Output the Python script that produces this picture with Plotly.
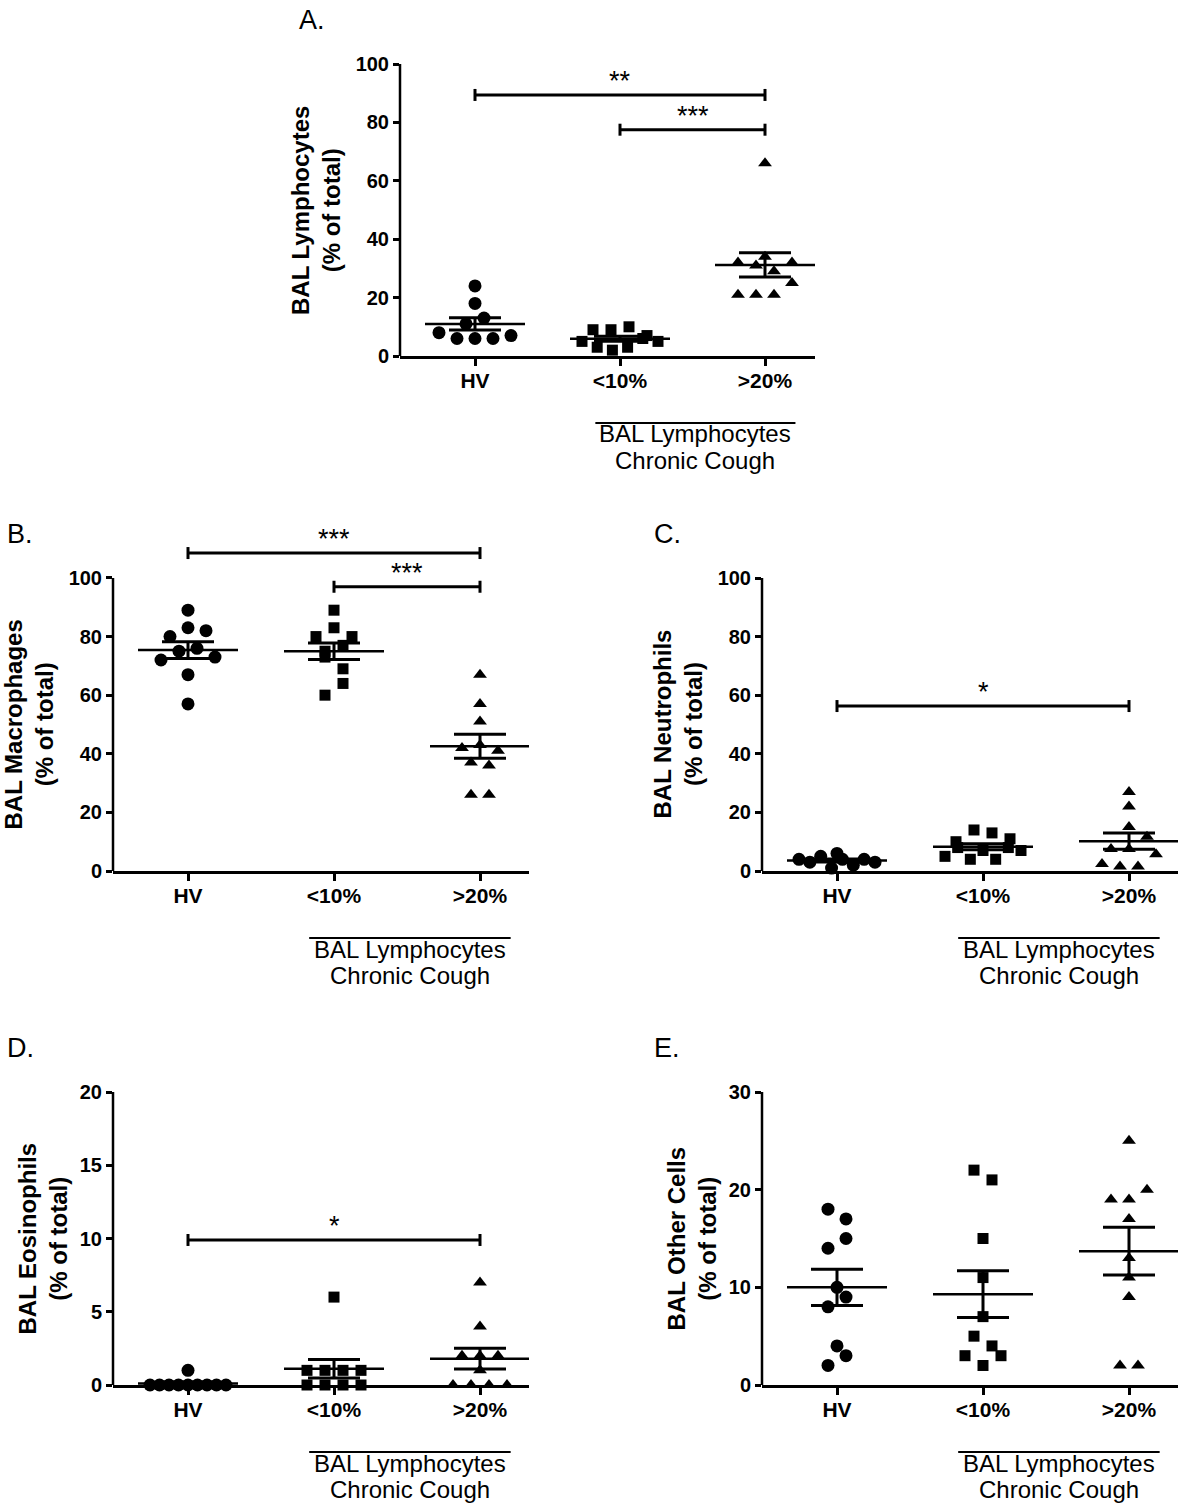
import math
import numpy as np
import plotly.graph_objects as go

FONT = "Liberation Sans, Arial, sans-serif"

# ---------------- data ----------------
groups = ["HV", "<10%", ">20%"]
group_label_1 = "BAL Lymphocytes"
group_label_2 = "Chronic Cough"

lymph_hv = [8, 6, 6, 6, 7, 11, 13, 18, 24]
lymph_lt10 = [5, 3, 2, 3, 6, 5, 9, 9, 10, 7]
lymph_gt20 = [21, 21, 21, 25, 32, 31, 29, 32, 34, 66]

macro_hv = [57, 67, 72, 75, 76, 73, 80, 83, 82, 89]
macro_lt10 = [60, 64, 73, 69, 75, 77, 80, 83, 80, 89]
macro_gt20 = [26, 26, 37, 36, 42, 43, 41, 51, 57, 67]

neut_hv = [4, 3, 5, 1, 4, 2, 4, 3, 6]
neut_lt10 = [10, 5, 8, 4, 7, 14, 4, 13, 8, 11, 7]
neut_gt20 = [2.4, 1.5, 1.5, 5.7, 7.5, 7.5, 11.7, 15, 22, 27]

eos_hv = [0, 0, 0, 0, 0, 0, 0, 0, 0, 1]
eos_lt10 = [0, 0, 0, 0, 1, 1, 1, 1, 6]
eos_gt20 = [1, 0, 0, 0, 0, 2, 2, 2, 4, 7]

other_hv = [2, 3, 4, 8, 9, 10, 14, 15, 18, 17]
other_lt10 = [3, 2, 3, 5, 4, 7, 11, 15, 22, 21]
other_gt20 = [2, 2, 9, 11, 13, 17, 19, 19, 20, 25]

# significance brackets: (from group, to group, height, label)
lymph_sig = [(0, 2, 89.4, "**"), (1, 2, 77.5, "***")]
macro_sig = [(0, 2, 108.5, "***"), (1, 2, 97, "***")]
neut_sig = [(0, 2, 56.3, "*")]
eos_sig = [(0, 2, 9.9, "*")]
other_sig = []

lymph_ticks = [0, 20, 40, 60, 80, 100]
macro_ticks = [0, 20, 40, 60, 80, 100]
neut_ticks = [0, 20, 40, 60, 80, 100]
eos_ticks = [0, 5, 10, 15, 20]
other_ticks = [0, 10, 20, 30]

# ---------------- layout geometry (pixels) ----------------
W, H = 1200, 1508
panels = [
    dict(letter="A.", title="BAL Lymphocytes", data=[lymph_hv, lymph_lt10, lymph_gt20],
         sig=lymph_sig, ticks=lymph_ticks, ytop=100, left=400, right=815, bottom=356, top=64,
         xppu=145, letter_pos=(297, 20), title_x=316),
    dict(letter="B.", title="BAL Macrophages", data=[macro_hv, macro_lt10, macro_gt20],
         sig=macro_sig, ticks=macro_ticks, ytop=115, left=113, right=529, bottom=871, top=534,
         xppu=146, letter_pos=(5, 534), title_x=29),
    dict(letter="C.", title="BAL Neutrophils", data=[neut_hv, neut_lt10, neut_gt20],
         sig=neut_sig, ticks=neut_ticks, ytop=100, left=762, right=1178, bottom=871, top=578,
         xppu=146, letter_pos=(652, 534), title_x=677),
    dict(letter="D.", title="BAL Eosinophils", data=[eos_hv, eos_lt10, eos_gt20],
         sig=eos_sig, ticks=eos_ticks, ytop=20, left=113, right=529, bottom=1385, top=1092,
         xppu=146, letter_pos=(5, 1048), title_x=42),
    dict(letter="E.", title="BAL Other Cells", data=[other_hv, other_lt10, other_gt20],
         sig=other_sig, ticks=other_ticks, ytop=30, left=762, right=1178, bottom=1385, top=1092,
         xppu=146, letter_pos=(652, 1048), title_x=691),
]
symbols = ["circle", "square", "triangle-up"]
sizes = [13, 11, 12]


def swarm(vals, ppu_y, ppu_x, thresh=14.0, step=18.0, half_max=38.0):
    """GraphPad-like scatter: bin points whose values overlap, spread each row."""
    n = len(vals)
    order = sorted(range(n), key=lambda i: (vals[i], i))
    bins, cur = [], [order[0]]
    for i in order[1:]:
        if (vals[i] - vals[cur[0]]) * ppu_y < thresh:
            cur.append(i)
        else:
            bins.append(cur)
            cur = [i]
    bins.append(cur)
    offs = [0.0] * n
    for b in bins:
        b = sorted(b)
        k = len(b)
        sp = step if k < 2 else min(step, 2 * half_max / (k - 1))
        for j, idx in enumerate(b):
            offs[idx] = (j - (k - 1) / 2) * sp / ppu_x
    return offs


def px(x):
    return x / W


def py(y):
    return 1 - y / H


fig = go.Figure()
layout = dict(width=W, height=H, margin=dict(l=0, r=0, t=0, b=0, pad=0, autoexpand=False),
              plot_bgcolor="white", paper_bgcolor="white", showlegend=False,
              font=dict(family=FONT, color="black"), template="none")
shapes, annotations = [], []

for k, p in enumerate(panels, start=1):
    xa = "x" if k == 1 else f"x{k}"
    ya = "y" if k == 1 else f"y{k}"
    xkey = "xaxis" if k == 1 else f"xaxis{k}"
    ykey = "yaxis" if k == 1 else f"yaxis{k}"
    xppu = p["xppu"]
    xl = -(75.0) / xppu
    xr = xl + (p["right"] - p["left"]) / xppu
    ppu_y = (p["bottom"] - p["top"]) / p["ytop"]

    layout[xkey] = dict(domain=[px(p["left"]), px(p["right"])], range=[xl, xr], anchor=ya,
                        showline=True, linewidth=2.5, linecolor="black", ticks="outside",
                        ticklen=7, tickwidth=2.5, tickcolor="black", tickvals=[0, 1, 2],
                        ticktext=groups, tickfont=dict(size=21, family=FONT, weight="bold"),
                        ticklabelstandoff=-3,
                        showgrid=False, zeroline=False, fixedrange=True, automargin=False)
    layout[ykey] = dict(domain=[py(p["bottom"]), py(p["top"])], range=[0, p["ytop"]], anchor=xa,
                        showline=False, ticks="outside", ticklen=6, tickwidth=2.5,
                        tickcolor="black", tickvals=p["ticks"],
                        tickfont=dict(size=20, family=FONT, weight="bold"),
                        showgrid=False, zeroline=False, fixedrange=True, automargin=False)
    # y axis line up to the last tick
    shapes.append(dict(type="line", xref=f"{xa} domain", yref=ya, x0=0, x1=0,
                       y0=0, y1=p["ticks"][-1], line=dict(color="black", width=2.5)))

    for i, vals in enumerate(p["data"]):
        offs = swarm(vals, ppu_y, xppu)
        fig.add_trace(go.Scatter(x=[i + o for o in offs], y=vals, mode="markers",
                                 marker=dict(symbol=symbols[i], size=sizes[i], color="black",
                                             line=dict(width=0)),
                                 xaxis=xa, yaxis=ya, cliponaxis=False, hoverinfo="skip"))
        arr = np.array(vals, dtype=float)
        m = arr.mean()
        s = arr.std(ddof=1) / math.sqrt(len(arr))
        hw = 50.0 / xppu
        fig.add_trace(go.Scatter(x=[i - hw, i + hw], y=[m, m], mode="lines",
                                 line=dict(color="black", width=2.5),
                                 xaxis=xa, yaxis=ya, hoverinfo="skip"))
        fig.add_trace(go.Scatter(x=[i], y=[m], mode="markers",
                                 marker=dict(size=1, color="rgba(0,0,0,0)"),
                                 error_y=dict(type="data", array=[s], visible=True,
                                              color="black", thickness=3, width=26),
                                 xaxis=xa, yaxis=ya, hoverinfo="skip"))

    for (a, b, h, lab) in p["sig"]:
        shapes.append(dict(type="line", xref=xa, yref=ya, x0=a, x1=b, y0=h, y1=h,
                           line=dict(color="black", width=3)))
        for xe in (a, b):
            shapes.append(dict(type="line", xref=xa, yref=ya, ysizemode="pixel", yanchor=h,
                               x0=xe, x1=xe, y0=-6, y1=6, line=dict(color="black", width=3)))
        annotations.append(dict(x=(a + b) / 2, y=h, xref=xa, yref=ya, text=lab,
                                showarrow=False, yanchor="bottom", yshift=-3,
                                font=dict(size=27, family=FONT)))

    # group label under the two cough groups
    ax_px = p["bottom"]
    shapes.append(dict(type="line", xref=xa, yref="paper", x0=0.83, x1=2.21,
                       y0=py(ax_px + 67), y1=py(ax_px + 67), line=dict(color="black", width=2)))
    annotations.append(dict(x=1.52, y=py(ax_px + 78), xref=xa, yref="paper",
                            text=group_label_1, showarrow=False, yanchor="middle",
                            font=dict(size=24, family=FONT)))
    annotations.append(dict(x=1.52, y=py(ax_px + 104), xref=xa, yref="paper",
                            text=group_label_2, showarrow=False, yanchor="middle",
                            font=dict(size=24, family=FONT)))

    # y-axis title
    annotations.append(dict(x=px(p["title_x"]), y=py((p["bottom"] + (p["bottom"] - ppu_y * p["ticks"][-1])) / 2),
                            xref="paper", yref="paper", text=f"{p['title']}<br>(% of total)",
                            textangle=-90, showarrow=False, xanchor="center", yanchor="middle",
                            font=dict(size=24, family=FONT, weight="bold")))
    # panel letter
    lx, ly = p["letter_pos"]
    annotations.append(dict(x=px(lx), y=py(ly), xref="paper", yref="paper", text=p["letter"],
                            showarrow=False, xanchor="left", yanchor="middle",
                            font=dict(size=27, family=FONT)))

layout["shapes"] = shapes
layout["annotations"] = annotations
fig.update_layout(**layout)

post = (
    "var d=document.getElementById('{plot_id}');"
    "d.style.position='fixed';d.style.top='0px';d.style.left='0px';"
    "document.body.style.margin='0';document.body.style.overflow='hidden';"
    "document.documentElement.style.overflow='hidden';"
)
fig.write_html("out.html", config={"displayModeBar": False}, post_script=post)
